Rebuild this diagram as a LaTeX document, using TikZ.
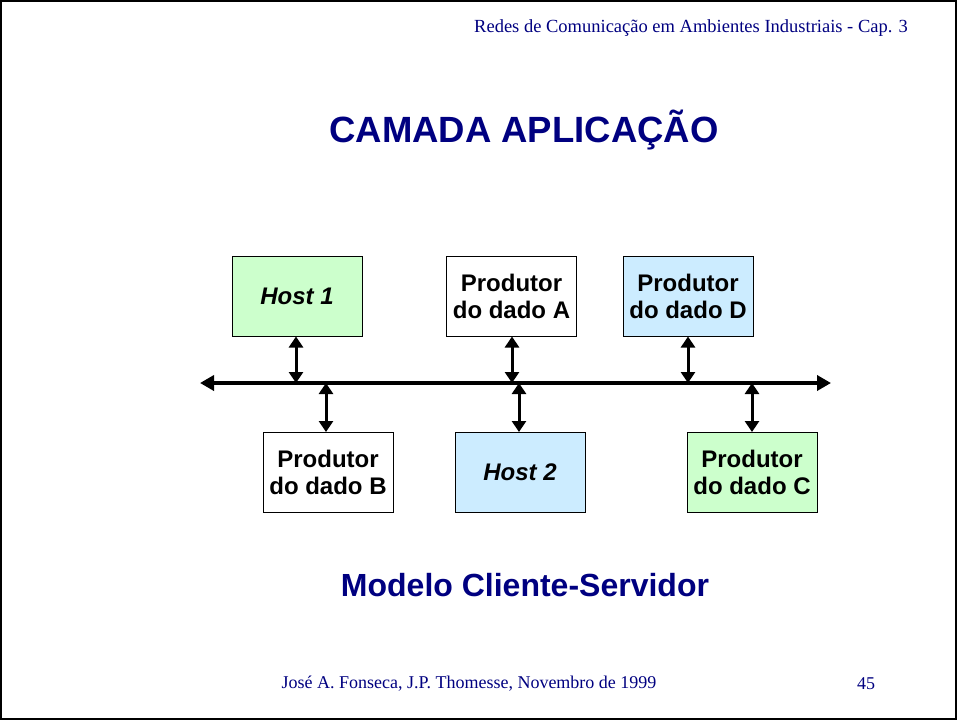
\documentclass[tikz,border=0pt]{standalone}
\usepackage{fontspec}
\setmainfont{Liberation Serif}
\setsansfont{Liberation Sans}
\usetikzlibrary{arrows.meta}
\definecolor{navy}{HTML}{000080}
\definecolor{lgreen}{HTML}{CCFFCC}
\definecolor{lblue}{HTML}{CCECFF}
\tikzset{
  unitbox/.style={draw=black, line width=1pt, minimum width=130pt, minimum height=80pt, inner sep=0pt,
    align=center, font=\sffamily\bfseries\fontsize{24}{27}\selectfont},
  link/.style={line width=3pt, {Triangle[length=11pt,width=14pt]}-{Triangle[length=11pt,width=14pt]}},
  bus/.style={line width=4pt, {Triangle[length=14pt,width=15pt]}-{Triangle[length=14pt,width=15pt]}},
  slidetext/.style={text=navy, inner sep=0pt}
}
\begin{document}
\begin{tikzpicture}[x=1pt,y=-1pt]
\useasboundingbox (0,0) rectangle (957,720);
\draw[line width=2pt] (1,1) rectangle (956,719);
\node[slidetext, font=\rmfamily\fontsize{18.5}{20}\selectfont] (hdr) at (691,28) {Redes de Comunicação em Ambientes Industriais - Cap. 3};
\node[slidetext, font=\sffamily\bfseries\fontsize{36.5}{40}\selectfont] (title) at (524,130) {CAMADA APLICAÇÃO};
\node[slidetext, font=\sffamily\bfseries\fontsize{32}{36}\selectfont] (sub) at (525,585) {Modelo Cliente-Servidor};
\node[slidetext, font=\rmfamily\fontsize{18}{20}\selectfont] (foot) at (469,684) {José A. Fonseca, J.P. Thomesse, Novembro de 1999};
\node[slidetext, font=\rmfamily\fontsize{18}{20}\selectfont] (pg) at (866,684) {45};

\node[unitbox, fill=lgreen] (h1) at (297,296) {\itshape Host 1};
\node[unitbox, fill=white] (pa) at (511.5,296) {Produtor\\do dado A};
\node[unitbox, fill=lblue] (pd) at (688,296) {Produtor\\do dado D};
\node[unitbox, fill=white] (pb) at (328,472.5) {Produtor\\do dado B};
\node[unitbox, fill=lblue] (h2) at (520,472.5) {\itshape Host 2};
\node[unitbox, fill=lgreen] (pc) at (752,472.5) {Produtor\\do dado C};

\coordinate (busL) at (200,383);
\coordinate (busR) at (831,383);
\draw[bus] (busL) -- (busR);

\coordinate (t1) at (296,383);
\coordinate (ta) at (512,383);
\coordinate (td) at (688,383);
\coordinate (tb) at (326,383);
\coordinate (t2) at (519,383);
\coordinate (tc) at (752,383);
\draw[link] (h1.south -| t1) -- (t1);
\draw[link] (pa.south -| ta) -- (ta);
\draw[link] (pd.south -| td) -- (td);
\draw[link] (tb) -- (pb.north -| tb);
\draw[link] (t2) -- (h2.north -| t2);
\draw[link] (tc) -- (pc.north -| tc);
\end{tikzpicture}
\end{document}
